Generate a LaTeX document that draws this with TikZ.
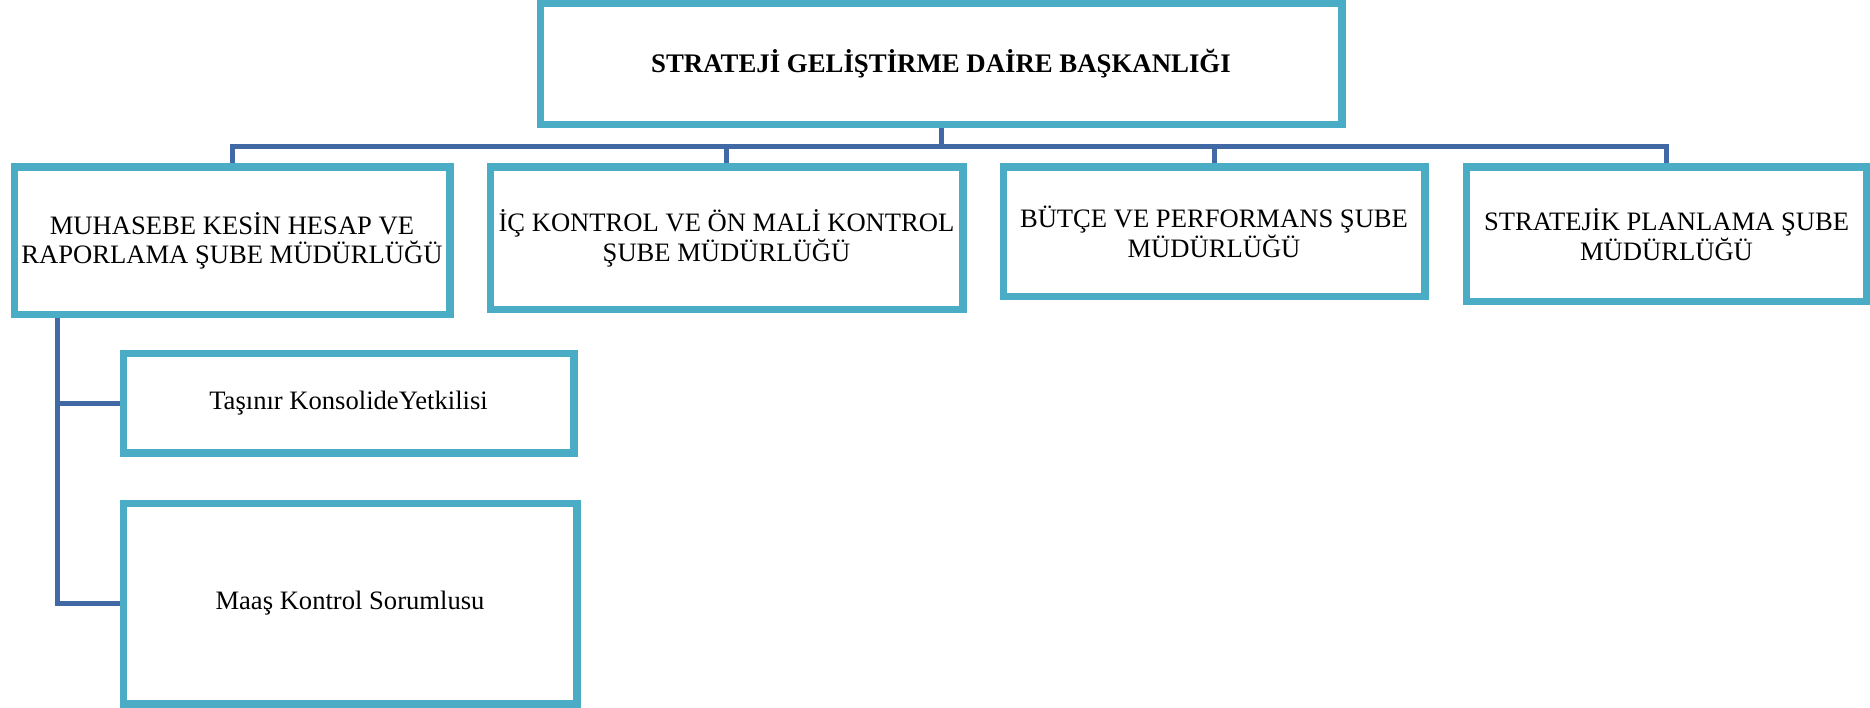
\documentclass[tikz,border=0pt]{standalone}
\usepackage{fontspec}
\setmainfont{Liberation Serif}
\definecolor{boxblue}{RGB}{75,172,198}
\definecolor{linkblue}{RGB}{65,105,165}
\tikzset{
  unit/.style={draw=boxblue, line width=5pt, fill=white, inner sep=0pt, align=center,
    font=\fontsize{26.6}{29.5}\selectfont},
  conn/.style={draw=linkblue, line width=5pt}
}
\begin{document}
\begin{tikzpicture}[x=1pt,y=-1pt]
\useasboundingbox[fill=white] (0,0) rectangle (1870,708);
\coordinate (bar) at (0,147);
\coordinate (spine) at (57,316);
\node[unit, minimum width=799pt, minimum height=119pt, font=\fontsize{26.8}{29.5}\selectfont\bfseries] (top) at (941,64) {STRATEJİ GELİŞTİRME DAİRE BAŞKANLIĞI};
\node[unit, minimum width=433pt, minimum height=145pt] (b1) at (232,241) {MUHASEBE KESİN HESAP VE\\RAPORLAMA ŞUBE MÜDÜRLÜĞÜ};
\node[unit, minimum width=470pt, minimum height=140pt] (b2) at (726.5,238.5) {İÇ KONTROL VE ÖN MALİ KONTROL\\ŞUBE MÜDÜRLÜĞÜ};
\node[unit, minimum width=419pt, minimum height=127pt] (b3) at (1214,232) {BÜTÇE VE PERFORMANS ŞUBE\\MÜDÜRLÜĞÜ};
\node[unit, minimum width=398pt, minimum height=132pt] (b4) at (1666.5,234.5) {STRATEJİK PLANLAMA ŞUBE\\MÜDÜRLÜĞÜ};
\node[unit, minimum width=448pt, minimum height=97pt] (tas) at (348.5,403) {Taşınır KonsolideYetkilisi};
\node[unit, minimum width=451pt, minimum height=198pt] (maas) at (350,603.5) {Maaş Kontrol Sorumlusu};
\draw[conn] (top.south) -- (top.south |- bar) -| (b1.north);
\draw[conn] (top.south |- bar) -| (b2.north);
\draw[conn] (top.south |- bar) -| (b3.north);
\draw[conn] (top.south |- bar) -| (b4.north);
\draw[conn] (b1.south -| spine) |- (tas.west);
\draw[conn] (spine) |- (maas.west);
% redraw borders over the connector ends
\foreach \n in {top,b1,b2,b3,b4,tas,maas}{
  \draw[boxblue, line width=5pt] (\n.north west) rectangle (\n.south east);
}
\end{tikzpicture}
\end{document}
